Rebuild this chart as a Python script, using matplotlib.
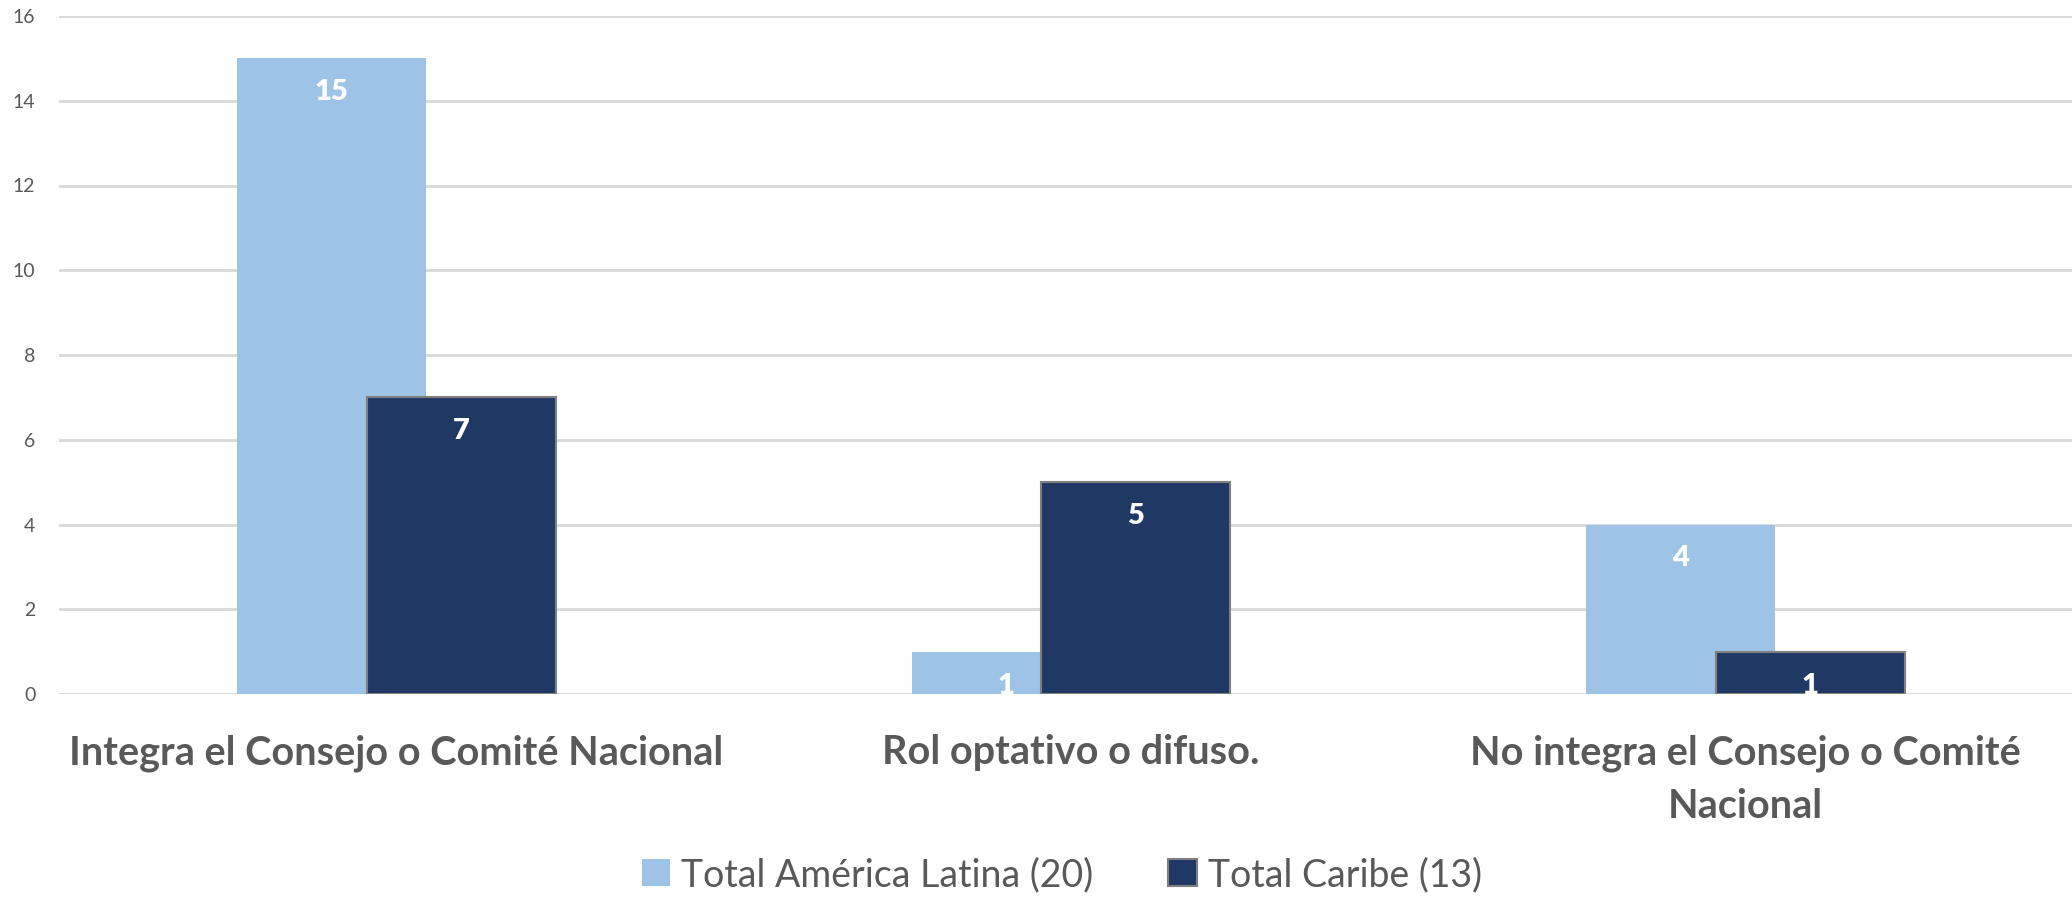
import numpy as np
import matplotlib.pyplot as plt

# datos
categorias = ['Integra el Consejo o Comité Nacional', 'Rol optativo o difuso.',
              'No integra el Consejo o Comité\nNacional']
america_latina = [15, 1, 4]
caribe = [7, 5, 1]
series = ['Total América Latina (20)', 'Total Caribe (13)']

plt.rcParams['font.family'] = ['Lato', 'DejaVu Sans']

fig = plt.figure(figsize=(20.72, 9), dpi=100)
ax = fig.add_axes([59 / 2072, 1 - 694 / 900, 1 - 59 / 2072, (694 - 16) / 900])

x = np.arange(len(categorias))
ancho = 0.28
desp = 0.096

b1 = ax.bar(x - desp, america_latina, ancho, color='#9DC3E6', zorder=2, label=series[0])
b2 = ax.bar(x + desp, caribe, ancho, color='#203864', edgecolor='#808080', linewidth=1.5,
            zorder=3, label=series[1])

for barras in (b1, b2):
    for r in barras:
        v = r.get_height()
        ax.annotate(str(int(v)), (r.get_x() + r.get_width() / 2, v), xytext=(0, -34),
                    textcoords='offset pixels', ha='center', va='center',
                    color='white', fontsize=21, fontweight='heavy', zorder=4)

ax.set_ylim(0, 16)
ax.set_yticks(range(0, 17, 2))
ax.set_xlim(-0.5, 2.484)
ax.set_xticks(x)
ax.set_xticklabels(categorias, fontsize=28.5, fontweight='bold', color='#595959',
                   linespacing=1.55)
ax.tick_params(axis='x', length=0, pad=29)
ax.tick_params(axis='y', length=0, pad=17, labelsize=14, labelcolor='#595959')
ax.yaxis.grid(True, color='#D9D9D9', linewidth=2)
ax.set_axisbelow(True)
for s in ax.spines.values():
    s.set_visible(False)

fig.legend(handles=[b1, b2], labels=series, loc='center', bbox_to_anchor=(0.5125, 0.028),
           ncol=2, frameon=False, fontsize=27, labelcolor='#595959',
           handlelength=0.75, handleheight=0.75, handletextpad=0.3, columnspacing=2.0)

fig.savefig('out.png', dpi=100)
